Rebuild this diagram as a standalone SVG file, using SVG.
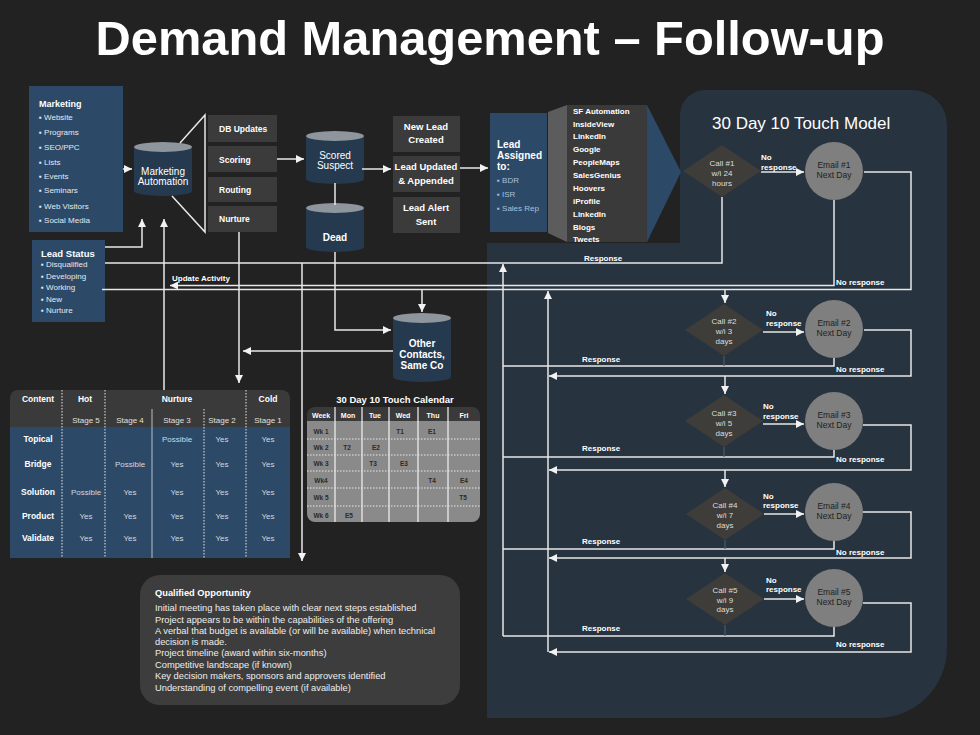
<svg xmlns="http://www.w3.org/2000/svg" width="980" height="735" viewBox="0 0 980 735">
<defs>
<marker id="ah" viewBox="0 0 10 10" refX="10" refY="5" markerWidth="9" markerHeight="8" markerUnits="userSpaceOnUse" orient="auto"><path d="M0,0 L10,5 L0,10 Z" fill="#f2f2f2"/></marker>
<style>
text{font-family:"Liberation Sans",Arial,"DejaVu Sans",sans-serif}
.w{fill:#ffffff}
.lt{fill:#e4e8ee}
.bd{font-weight:bold}
.c{text-anchor:middle}
.blue{fill:#2c4a68}
.gbox{fill:#3b3b3b}
.cylb{fill:#253a4f}
.cylt{fill:#8e959c}
.dia{fill:#3e3d3a}
.em{fill:#7f7f7f}
.ln{fill:none;stroke:#e8e8e8;stroke-width:1.5}
.ar{marker-end:url(#ah)}
.dot{fill:none;stroke:#e8e8e8;stroke-width:1;stroke-dasharray:1.5 1.5}
.s7{font-size:7px}
.s8{font-size:8px}
.s9{font-size:9px}
.s10{font-size:10px}
.dk{fill:#1e1e1e}
.cal{fill:#2a2a2a;font-weight:bold;font-size:6.5px;text-anchor:middle}
.tv{fill:#cfd8e2;font-size:8px;text-anchor:middle}
.tl{fill:#ffffff;font-weight:bold;font-size:8.5px;text-anchor:middle}
</style>
</defs>
<rect x="0" y="0" width="980" height="735" fill="#222222"/>
<text x="490" y="55" class="w bd c" font-size="48.8">Demand Management – Follow-up</text>

<!-- 30 day panel -->
<path id="panel" d="M705,90 H912 A35,35 0 0 1 947,125 V648 A70,70 0 0 1 877,718 H487 V243 H680 V115 A25,25 0 0 1 705,90 Z" fill="#27333f"/>
<text x="712" y="129" class="w" font-size="17">30 Day 10 Touch Model</text>

<g id="marketing">
<rect x="29" y="86" width="94" height="146" class="blue"/>
<text x="39" y="106.5" class="w bd s9" font-size="9.5">Marketing</text>
<g class="lt s8">
<text x="39" y="120">▪ Website</text>
<text x="39" y="135">▪ Programs</text>
<text x="39" y="150">▪ SEO/PPC</text>
<text x="39" y="165">▪ Lists</text>
<text x="39" y="179">▪ Events</text>
<text x="39" y="193">▪ Seminars</text>
<text x="39" y="209">▪ Web Visitors</text>
<text x="39" y="223">▪ Social Media</text>
</g>
</g>

<g id="marketing-automation">
<path d="M134,147 V191 A29,5 0 0 0 192,191 V147 Z" class="cylb"/>
<ellipse cx="163" cy="147" rx="29" ry="5" class="cylt"/>
<text x="163" y="174.5" class="w c s10">Marketing</text>
<text x="163" y="184.5" class="w c s10">Automation</text>
</g>

<g id="funnel">
<path d="M180,143 L205,115 V232 L172,196" class="ln"/>
</g>

<g id="db-updates"><rect x="208" y="115" width="69" height="27" class="gbox"/><text x="219" y="132" class="w bd" font-size="8.5">DB Updates</text></g>
<g id="scoring"><rect x="208" y="146" width="69" height="26" class="gbox"/><text x="219" y="163" class="w bd" font-size="8.5">Scoring</text></g>
<g id="routing"><rect x="208" y="177" width="69" height="25" class="gbox"/><text x="219" y="193" class="w bd" font-size="8.5">Routing</text></g>
<g id="nurture"><rect x="208" y="206" width="69" height="26" class="gbox"/><text x="219" y="222" class="w bd" font-size="8.5">Nurture</text></g>

<g id="scored-suspect">
<path d="M306,136 V179 A29,5 0 0 0 364,179 V136 Z" class="cylb"/>
<ellipse cx="335" cy="136" rx="29" ry="5" class="cylt"/>
<text x="335" y="158.5" class="w c s10">Scored</text>
<text x="335" y="168.5" class="w c s10">Suspect</text>
</g>

<g id="dead">
<path d="M306,208 V247 A29,5 0 0 0 364,247 V208 Z" class="cylb"/>
<ellipse cx="335" cy="208" rx="29" ry="5" class="cylt"/>
<text x="335" y="240.5" class="w c bd s10">Dead</text>
</g>

<g id="new-lead"><rect x="393" y="116" width="67" height="36" class="gbox"/><text x="426" y="129.5" class="w c bd" font-size="9.5">New Lead</text><text x="426" y="143" class="w c bd" font-size="9.5">Created</text></g>
<g id="lead-updated"><rect x="393" y="156" width="67" height="36" class="gbox"/><text x="426" y="169.5" class="w c bd" font-size="9.5">Lead Updated</text><text x="426" y="183.5" class="w c bd" font-size="9.5">&amp; Appended</text></g>
<g id="lead-alert"><rect x="393" y="197" width="67" height="36" class="gbox"/><text x="426" y="210.5" class="w c bd" font-size="9.5">Lead Alert</text><text x="426" y="224.5" class="w c bd" font-size="9.5">Sent</text></g>

<g id="lead-assigned">
<rect x="490" y="113" width="57" height="119" class="blue"/>
<text x="497" y="147.5" class="w bd s10">Lead</text>
<text x="497" y="158.5" class="w bd s10">Assigned</text>
<text x="497" y="169.5" class="w bd s10">to:</text>
<g fill="#a9c1d9" font-size="8"><text x="497" y="183">▪ BDR</text><text x="497" y="197">▪ ISR</text><text x="497" y="211">▪ Sales Rep</text></g>
</g>

<g id="tools">
<polygon points="548,112 567,105 567,242 548,233" fill="#5c5c5c"/>
<rect x="567" y="105" width="80" height="137" fill="#3a3a3a"/>
<polygon points="647,105 681,172 647,242" class="blue"/>
<g class="w bd s8">
<text x="573" y="114">SF Automation</text>
<text x="573" y="127">InsideView</text>
<text x="573" y="139">LinkedIn</text>
<text x="573" y="152">Google</text>
<text x="573" y="165">PeopleMaps</text>
<text x="573" y="178">SalesGenius</text>
<text x="573" y="191">Hoovers</text>
<text x="573" y="204">iProfile</text>
<text x="573" y="217">LinkedIn</text>
<text x="573" y="230">Blogs</text>
<text x="573" y="242">Tweets</text>
</g>
</g>

<g id="lead-status">
<rect x="32" y="240" width="73" height="82" class="blue"/>
<text x="41" y="256.5" class="w bd" font-size="9.5">Lead Status</text>
<g class="lt s8">
<text x="41" y="267">▪ Disqualified</text>
<text x="41" y="279">▪ Developing</text>
<text x="41" y="290">▪ Working</text>
<text x="41" y="302">▪ New</text>
<text x="41" y="313">▪ Nurture</text>
</g>
</g>

<g id="other-contacts">
<path d="M393,318 V377 A29,5 0 0 0 451,377 V318 Z" class="cylb"/>
<ellipse cx="422" cy="318" rx="29" ry="5" class="cylt"/>
<text x="422" y="347" class="w c bd s10">Other</text>
<text x="422" y="358" class="w c bd s10">Contacts,</text>
<text x="422" y="369" class="w c bd s10">Same Co</text>
</g>

<!-- content table -->
<g id="content-table">
<path d="M10,427 V398 A8,8 0 0 1 18,390 H282 A8,8 0 0 1 290,398 V427 Z" fill="#3a3a3a"/>
<rect x="10" y="427" width="280" height="131" class="blue"/>
<line x1="62" y1="390" x2="62" y2="558" class="dot"/>
<line x1="105" y1="390" x2="105" y2="558" class="dot"/>
<line x1="246" y1="390" x2="246" y2="558" class="dot"/>
<line x1="152" y1="409" x2="152" y2="558" stroke="#b8c0c8" stroke-width="1"/>
<line x1="204" y1="409" x2="204" y2="558" class="dot"/>
<g class="w bd" font-size="8.5">
<text x="38" y="402" class="c">Content</text>
<text x="85" y="402" class="c">Hot</text>
<text x="177" y="402" class="c">Nurture</text>
<text x="268" y="402" class="c">Cold</text>
</g>
<g fill="#e0e0e0" font-size="8" text-anchor="middle">
<text x="86" y="423">Stage 5</text><text x="130" y="423">Stage 4</text><text x="177" y="423">Stage 3</text><text x="222" y="423">Stage 2</text><text x="268" y="423">Stage 1</text>
</g>
<text x="38" y="442" class="tl">Topical</text>
<text x="38" y="467" class="tl">Bridge</text>
<text x="38" y="495" class="tl">Solution</text>
<text x="38" y="519" class="tl">Product</text>
<text x="38" y="541" class="tl">Validate</text>
<text x="177" y="442" class="tv">Possible</text><text x="222" y="442" class="tv">Yes</text><text x="268" y="442" class="tv">Yes</text>
<text x="130" y="467" class="tv">Possible</text><text x="177" y="467" class="tv">Yes</text><text x="222" y="467" class="tv">Yes</text><text x="268" y="467" class="tv">Yes</text>
<text x="86" y="495" class="tv">Possible</text><text x="130" y="495" class="tv">Yes</text><text x="177" y="495" class="tv">Yes</text><text x="222" y="495" class="tv">Yes</text><text x="268" y="495" class="tv">Yes</text>
<text x="86" y="519" class="tv">Yes</text><text x="130" y="519" class="tv">Yes</text><text x="177" y="519" class="tv">Yes</text><text x="222" y="519" class="tv">Yes</text><text x="268" y="519" class="tv">Yes</text>
<text x="86" y="541" class="tv">Yes</text><text x="130" y="541" class="tv">Yes</text><text x="177" y="541" class="tv">Yes</text><text x="222" y="541" class="tv">Yes</text><text x="268" y="541" class="tv">Yes</text>
</g>

<!-- calendar -->
<g id="calendar">
<text x="395" y="403" class="w c bd" font-size="9.5">30 Day 10 Touch Calendar</text>
<path d="M307,421 V415 A8,8 0 0 1 315,407 H472 A8,8 0 0 1 480,415 V421 Z" fill="#3a3a3a"/>
<path d="M307,421 H480 V514 A8,8 0 0 1 472,522 H315 A8,8 0 0 1 307,514 Z" fill="#8a8a8a"/>
<g stroke="#f4f4f4" stroke-width="1.2">
<line x1="335" y1="407" x2="335" y2="522"/><line x1="362" y1="407" x2="362" y2="522"/><line x1="389" y1="407" x2="389" y2="522"/><line x1="418" y1="407" x2="418" y2="522"/><line x1="448" y1="407" x2="448" y2="522"/>
</g>
<g class="dot">
<line x1="307" y1="439" x2="480" y2="439"/><line x1="307" y1="455" x2="480" y2="455"/><line x1="307" y1="471" x2="480" y2="471"/><line x1="307" y1="488" x2="480" y2="488"/><line x1="307" y1="506" x2="480" y2="506"/>
</g>
<g class="w bd c s7">
<text x="321" y="417.5">Week</text><text x="348" y="417.5">Mon</text><text x="375" y="417.5">Tue</text><text x="403" y="417.5">Wed</text><text x="433" y="417.5">Thu</text><text x="464" y="417.5">Fri</text>
</g>
<text x="321" y="433.5" class="cal">Wk 1</text><text x="321" y="449.5" class="cal">Wk 2</text><text x="321" y="465.5" class="cal">Wk 3</text><text x="321" y="482.5" class="cal">Wk4</text><text x="321" y="499.5" class="cal">Wk 5</text><text x="321" y="517.5" class="cal">Wk 6</text>
<text x="400" y="433.5" class="cal">T1</text><text x="432" y="433.5" class="cal">E1</text>
<text x="347" y="449.5" class="cal">T2</text><text x="376" y="449.5" class="cal">E2</text>
<text x="373" y="465.5" class="cal">T3</text><text x="404" y="465.5" class="cal">E3</text>
<text x="432" y="482.5" class="cal">T4</text><text x="464" y="482.5" class="cal">E4</text>
<text x="463" y="499.5" class="cal">T5</text>
<text x="349" y="517.5" class="cal">E5</text>
</g>

<g id="qualified-opportunity">
<rect x="140" y="575" width="320" height="130" rx="20" fill="#3d3d3d"/>
<text x="155" y="596" class="w bd" font-size="9.3">Qualified Opportunity</text>
<g fill="#eeeeee" font-size="9.3">
<text x="155" y="611">Initial meeting has taken place with clear next steps established</text>
<text x="155" y="622.5">Project appears to be within the capabilities of the offering</text>
<text x="155" y="634">A verbal that budget is available (or will be available) when technical</text>
<text x="155" y="644.5">decision is made.</text>
<text x="155" y="656">Project timeline (award within six-months)</text>
<text x="155" y="667.5">Competitive landscape (if known)</text>
<text x="155" y="679">Key decision makers, sponsors and approvers identified</text>
<text x="155" y="690.5">Understanding of compelling event (if available)</text>
</g>
</g>

<!-- touch model nodes -->
<g id="call1"><polygon points="722,145 761,171 722,197 683,171" class="dia"/><g fill="#dddddd" font-size="8" text-anchor="middle"><text x="722" y="166">Call #1</text><text x="722" y="176">w/i 24</text><text x="722" y="185.5">hours</text></g></g>
<g id="email1"><circle cx="834" cy="171" r="29" class="em"/><text x="834" y="168" class="dk c" font-size="8.5">Email #1</text><text x="834" y="178" class="dk c" font-size="8.5">Next Day</text></g>
<g id="call2"><polygon points="724,304 763,330 724,356 685,330" class="dia"/><g fill="#dddddd" font-size="8" text-anchor="middle"><text x="724" y="324">Call #2</text><text x="724" y="334">w/i 3</text><text x="724" y="343.5">days</text></g></g>
<g id="email2"><circle cx="834" cy="329" r="29" class="em"/><text x="834" y="326" class="dk c" font-size="8.5">Email #2</text><text x="834" y="336" class="dk c" font-size="8.5">Next Day</text></g>
<g id="call3"><polygon points="724,395 763,421 724,447 685,421" class="dia"/><g fill="#dddddd" font-size="8" text-anchor="middle"><text x="724" y="416">Call #3</text><text x="724" y="426">w/i 5</text><text x="724" y="435.5">days</text></g></g>
<g id="email3"><circle cx="834" cy="421" r="29" class="em"/><text x="834" y="418" class="dk c" font-size="8.5">Email #3</text><text x="834" y="428" class="dk c" font-size="8.5">Next Day</text></g>
<g id="call4"><polygon points="725,488 764,514 725,540 686,514" class="dia"/><g fill="#dddddd" font-size="8" text-anchor="middle"><text x="725" y="508">Call #4</text><text x="725" y="518">w/i 7</text><text x="725" y="527.5">days</text></g></g>
<g id="email4"><circle cx="834" cy="512" r="29" class="em"/><text x="834" y="509" class="dk c" font-size="8.5">Email #4</text><text x="834" y="519" class="dk c" font-size="8.5">Next Day</text></g>
<g id="call5"><polygon points="725,573 764,599 725,625 686,599" class="dia"/><g fill="#dddddd" font-size="8" text-anchor="middle"><text x="725" y="592.5">Call #5</text><text x="725" y="602.5">w/i  9</text><text x="725" y="612">days</text></g></g>
<g id="email5"><circle cx="834" cy="598" r="29" class="em"/><text x="834" y="595" class="dk c" font-size="8.5">Email #5</text><text x="834" y="605" class="dk c" font-size="8.5">Next Day</text></g>

<!-- connectors -->
<g id="connectors">
<path d="M123,169 H132" class="ln ar"/>
<path d="M277,159 H304" class="ln ar"/>
<path d="M335,183 V205" class="ln"/>
<path d="M362,169 H391" class="ln ar"/>
<path d="M460,168 H488" class="ln ar"/>
<path d="M105,247 H142 V219" class="ln ar"/>
<path d="M164,390 V219" class="ln ar"/>
<path d="M239,232 V383" class="ln ar"/>
<path d="M335,252 V330 H391" class="ln ar"/>
<path d="M393,351 H243" class="ln ar"/>
<path d="M302,263 V561" class="ln ar"/>
<path d="M722,197 V263 H105" class="ln"/>
<path d="M834,200 V285.5 H170" class="ln ar"/>
<path d="M864,172 H911 V289.5 H102" class="ln"/>
<path d="M422,289.5 V312" class="ln ar"/>
<path d="M503,636 V264" class="ln ar"/>
<path d="M548,652 V291" class="ln ar"/>
<path d="M761,172 H804" class="ln ar"/>
<path d="M763,332 H804" class="ln ar"/>
<path d="M763,424 H804" class="ln ar"/>
<path d="M764,514 H804" class="ln ar"/>
<path d="M764,599 H804" class="ln ar"/>
<path d="M725,289.5 V303" class="ln ar"/>
<path d="M725,376 V394" class="ln ar"/>
<path d="M725,470 V487" class="ln ar"/>
<path d="M725,558 V572" class="ln ar"/>
<path d="M834,358 V366 H503" class="ln"/>
<path d="M834,450 V457 H503" class="ln"/>
<path d="M834,541 V549 H503" class="ln"/>
<path d="M834,627 V636 H503" class="ln"/>
<path d="M864,330 H911 V376 H549" class="ln ar"/>
<path d="M863,425 H911 V470 H549" class="ln ar"/>
<path d="M863,512 H911 V558 H549" class="ln ar"/>
<path d="M863,603 H911 V652 H549" class="ln ar"/>
<g stroke="#4a5a6a" stroke-width="1.2"><line x1="724" y1="356" x2="724" y2="366"/><line x1="724" y1="447" x2="724" y2="457"/><line x1="725" y1="540" x2="725" y2="549"/><line x1="725" y1="625" x2="725" y2="636"/></g>
</g>

<!-- connector labels -->
<g class="w bd s8">
<text x="172" y="281">Update Activity</text>
<text x="584" y="261">Response</text>
<text x="761" y="160">No</text><text x="761" y="170">response</text>
<text x="836" y="285">No response</text>
<text x="766" y="316">No</text><text x="766" y="325.5">response</text>
<text x="582" y="362">Response</text>
<text x="836" y="372">No response</text>
<text x="763" y="409">No</text><text x="763" y="419">response</text>
<text x="582" y="451">Response</text>
<text x="836" y="462">No response</text>
<text x="763" y="499">No</text><text x="763" y="508">response</text>
<text x="582" y="544">Response</text>
<text x="836" y="555">No response</text>
<text x="766" y="583">No</text><text x="766" y="592">response</text>
<text x="582" y="631">Response</text>
<text x="836" y="647">No response</text>
</g>
</svg>
